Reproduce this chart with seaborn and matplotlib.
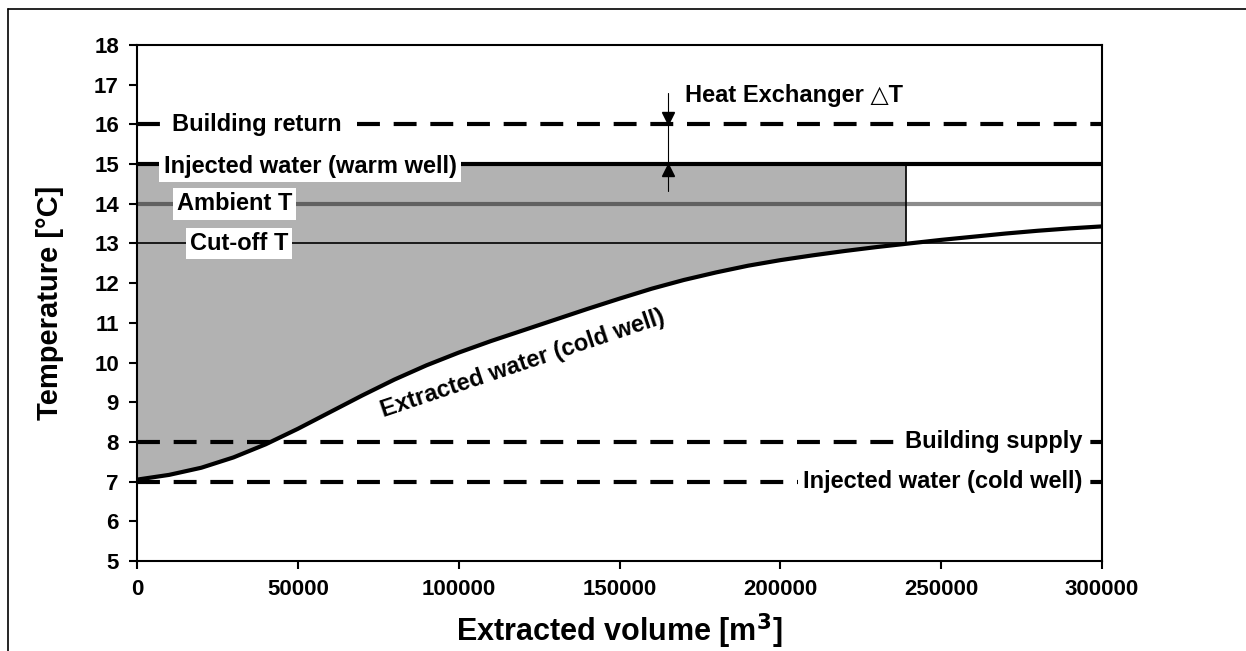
import numpy as np
import pandas as pd
import matplotlib
matplotlib.use("Agg")
import matplotlib.pyplot as plt
from matplotlib.lines import Line2D
import seaborn as sns

# Extracted water temperature from the cold well vs. extracted volume
volume = [0, 10000, 20000, 30000, 40000, 50000, 60000, 70000, 80000, 90000,
          100000, 110000, 120000, 130000, 140000, 150000, 160000, 170000,
          180000, 190000, 200000, 210000, 220000, 230000, 240000, 250000,
          260000, 270000, 280000, 290000, 300000]
extracted_temp = [7.05, 7.17, 7.35, 7.61, 7.94, 8.33, 8.75, 9.17, 9.57, 9.93,
                  10.25, 10.54, 10.81, 11.08, 11.35, 11.61, 11.86, 12.08,
                  12.27, 12.44, 12.58, 12.70, 12.81, 12.91, 13.00, 13.09,
                  13.17, 13.25, 13.32, 13.38, 13.43]

# Reference temperatures [°C]
building_return = 16
injected_warm = 15
ambient_t = 14
cutoff_t = 13
building_supply = 8
injected_cold = 7
cutoff_volume = 239000
hx_volume = 165000

x_ticks = [0, 50000, 100000, 150000, 200000, 250000, 300000]
y_ticks = list(range(5, 19))

sns.set_theme(style="ticks")
plt.rcParams["font.family"] = ["Liberation Sans", "DejaVu Sans"]
plt.rcParams.update({
    "font.weight": "bold",
    "text.color": "black",
    "axes.labelcolor": "black",
    "xtick.color": "black",
    "ytick.color": "black",
})

W, H = 1246, 651
fig = plt.figure(figsize=(W / 100, H / 100), dpi=100)
ax = fig.add_axes([137 / W, 1 - 561 / H, (1102 - 137) / W, (561 - 45) / H])

df = pd.DataFrame({"volume": volume, "temp": extracted_temp})

# Usable heat region: between warm-well injection and extracted water, up to cut-off
vol = np.array(volume, dtype=float)
tmp = np.array(extracted_temp, dtype=float)
mask = vol <= cutoff_volume
fx = np.append(vol[mask], cutoff_volume)
fy = np.append(tmp[mask], np.interp(cutoff_volume, vol, tmp))
ax.fill_between(fx, fy, injected_warm, color="#b2b2b2", linewidth=0, zorder=1)
ax.plot([cutoff_volume, cutoff_volume], [cutoff_t, injected_warm],
        color="black", lw=1.2, zorder=2)

dash = (5.5, 3.3)
ax.axhline(building_return, color="black", lw=3, ls=(0, dash), dash_capstyle="butt", zorder=3)
ax.axhline(injected_warm, color="black", lw=3, zorder=3)
ax.axhline(ambient_t, color="black", alpha=0.45, lw=3, zorder=3)
ax.axhline(cutoff_t, color="black", lw=1.2, zorder=3)
ax.axhline(building_supply, color="black", lw=3, ls=(0, dash), dash_capstyle="butt", zorder=3)
ax.axhline(injected_cold, color="black", lw=3, ls=(0, dash), dash_capstyle="butt", zorder=3)

sns.lineplot(data=df, x="volume", y="temp", color="black", lw=3, ax=ax, zorder=4)

# Heat exchanger temperature difference marker
ax.plot([hx_volume, hx_volume], [14.33, 16.79], color="black", lw=0.8, zorder=5)
ax.plot([hx_volume], [building_return + 0.16], marker="v", ms=9, color="black", zorder=6)
ax.plot([hx_volume], [injected_warm - 0.16], marker="^", ms=9, color="black", zorder=6)
ax.text(hx_volume + 5500, 16.72, "Heat Exchanger △T", fontsize=17, fontweight="bold",
        ha="left", va="center", zorder=7)

box = dict(facecolor="white", edgecolor="none", pad=3)
lbl = dict(fontsize=17, fontweight="bold", va="center", zorder=7, bbox=box)
ax.text(37300, building_return, "Building return", ha="center", **lbl)
ax.text(53800, injected_warm - 0.05, "Injected water (warm well)", ha="center", **lbl)
ax.text(30300, ambient_t, "Ambient T", ha="center", **lbl)
ax.text(31700, cutoff_t, "Cut-off T", ha="center", **lbl)
ax.text(293800, building_supply, "Building supply", ha="right", **lbl)
ax.text(293800, injected_cold, "Injected water (cold well)", ha="right", **lbl)
ax.text(120000, 9.98, "Extracted water (cold well)", fontsize=17, fontweight="bold",
        ha="center", va="center", rotation=18.5, rotation_mode="anchor", zorder=7)

ax.set_xlim(0, 300000)
ax.set_ylim(5, 18)
ax.set_xticks(x_ticks)
ax.set_xticklabels([str(v) for v in x_ticks])
ax.set_yticks(y_ticks)
ax.tick_params(axis="both", direction="out", length=6, width=1.5, color="black",
               labelsize=16, pad=7)
for t in ax.get_xticklabels() + ax.get_yticklabels():
    t.set_fontweight("bold")
for s in ax.spines.values():
    s.set_visible(True)
    s.set_color("black")
    s.set_linewidth(1.5)
ax.set_facecolor("white")
ax.set_xlabel("Extracted volume [m$^\\mathbf{3}$]", fontsize=22, fontweight="bold", labelpad=8)
ax.set_ylabel("Temperature [°C]", fontsize=21, fontweight="bold", labelpad=22)

# Outer frame edges
fig.add_artist(Line2D([7.5 / W, 7.5 / W], [0, 1 - 9 / H], color="black", lw=1.2,
                      transform=fig.transFigure))
fig.add_artist(Line2D([7.5 / W, 1], [1 - 9 / H, 1 - 9 / H], color="black", lw=1.2,
                      transform=fig.transFigure))

fig.savefig("out.png", dpi=100, facecolor="white")
